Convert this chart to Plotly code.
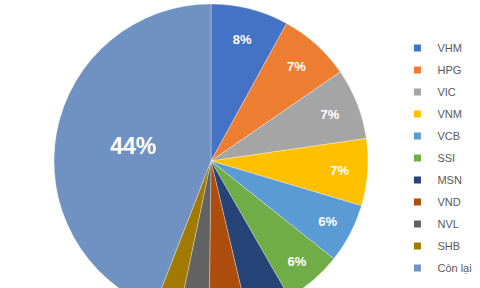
import plotly.graph_objects as go

labels = ["VHM", "HPG", "VIC", "VNM", "VCB", "SSI", "MSN", "VND", "NVL", "SHB", "Còn lại"]
values = [8.0, 7.4, 7.3, 6.9, 6.1, 6.0, 4.6, 3.9, 3.1, 2.6, 44.1]
colors = ["#4472C4", "#ED7D31", "#A5A5A5", "#FFC000", "#5B9BD5", "#70AD47",
          "#264478", "#AE4E0E", "#636363", "#A27A00", "#6F92C2"]

total = sum(values)
texts = [f"{round(v / total * 100)}%" if v >= 5 else "" for v in values]
sizes = [23 if v > 20 else 13 for v in values]

W, H = 480, 322
fig = go.Figure()
fig.add_trace(go.Pie(
    labels=labels, values=values, sort=False, direction="clockwise", rotation=0,
    marker=dict(colors=colors, line=dict(color="rgba(255,255,255,0.6)", width=0.5)),
    text=texts, textinfo="text", textposition="inside",
    insidetextorientation="horizontal",
    textfont=dict(color="white", size=sizes, family="Liberation Sans", weight="bold"),
    hoverinfo="label+percent", showlegend=False,
    domain=dict(x=[54 / W, 368 / W], y=[0, 1]),
))
# legend entries (one per slice) with small square markers
for lab, col in zip(labels, colors):
    fig.add_trace(go.Scatter(
        x=[None], y=[None], mode="markers", name=lab, legendgroup=lab,
        marker=dict(symbol="square", size=7, color=col), showlegend=True,
    ))
fig.update_layout(
    width=W, height=H,
    margin=dict(l=0, r=0, t=4, b=4),
    paper_bgcolor="white", plot_bgcolor="white",
    xaxis=dict(visible=False), yaxis=dict(visible=False),
    font=dict(family="Liberation Sans", color="#595959"),
    legend=dict(x=0.828, xanchor="left", y=0.906, yanchor="top",
                font=dict(size=11, color="#595959"), bgcolor="rgba(0,0,0,0)",
                tracegroupgap=3),
)
fig.write_html("out.html", post_script="document.documentElement.style.overflow='hidden';document.body.style.overflow='hidden';document.body.style.margin='0';")
